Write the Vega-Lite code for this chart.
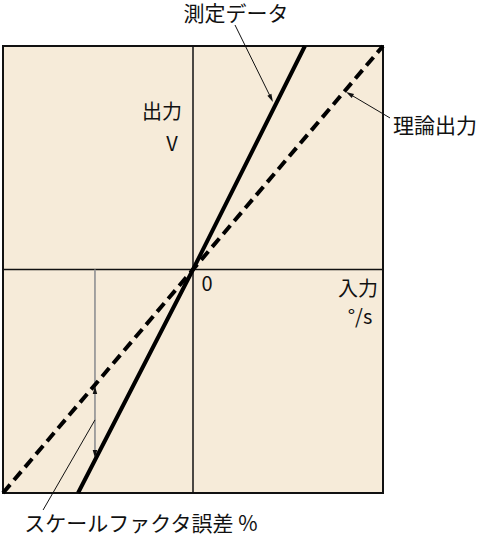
{
  "$schema": "https://vega.github.io/schema/vega-lite/v6.json",
  "autosize": "none",
  "width": 380,
  "height": 447,
  "padding": {"left": 3, "top": 46, "right": 101, "bottom": 50},
  "background": "white",
  "view": {"fill": "#F6EBD9", "stroke": "#111111", "strokeWidth": 2},
  "config": {"text": {"font": "Noto Sans CJK JP", "color": "#111111"}},
  "layer": [
    {
      "data": {"values": [
        {"x": -1, "y": 0, "x2": 1, "y2": 0},
        {"x": 0, "y": -1, "x2": 0, "y2": 1}
      ]},
      "mark": {"type": "rule", "color": "#111111", "strokeWidth": 1.5},
      "encoding": {
        "x": {"field": "x", "type": "quantitative", "scale": {"domain": [-1, 1], "nice": false, "zero": false}, "axis": null},
        "y": {"field": "y", "type": "quantitative", "scale": {"domain": [-1, 1], "nice": false, "zero": false}, "axis": null},
        "x2": {"field": "x2"},
        "y2": {"field": "y2"}
      }
    },
    {
      "data": {"values": [
        {"x": -0.516, "y": 0, "x2": -0.516, "y2": -0.83}
      ]},
      "mark": {"type": "rule", "color": "#9a9a9a", "strokeWidth": 1.8},
      "encoding": {
        "x": {"field": "x", "type": "quantitative"},
        "y": {"field": "y", "type": "quantitative"},
        "x2": {"field": "x2"},
        "y2": {"field": "y2"}
      }
    },
    {
      "data": {"values": [
        {"x": -1, "y": -1},
        {"x": 1, "y": 1}
      ]},
      "mark": {"type": "line", "color": "#000000", "strokeWidth": 4, "strokeDash": [11, 6]},
      "encoding": {
        "x": {"field": "x", "type": "quantitative"},
        "y": {"field": "y", "type": "quantitative"}
      }
    },
    {
      "data": {"values": [
        {"x": -0.605, "y": -1},
        {"x": 0, "y": 0},
        {"x": 0.589, "y": 1}
      ]},
      "mark": {"type": "line", "color": "#000000", "strokeWidth": 4},
      "encoding": {
        "x": {"field": "x", "type": "quantitative"},
        "y": {"field": "y", "type": "quantitative"}
      }
    },
    {
      "data": {"values": [
        {"x": 0.221, "y": 1.094, "x2": 0.409, "y2": 0.77},
        {"x": 1.037, "y": 0.678, "x2": 0.828, "y2": 0.783},
        {"x": -0.516, "y": -0.673, "x2": -0.789, "y2": -1.076}
      ]},
      "mark": {"type": "rule", "color": "#111111", "strokeWidth": 1},
      "encoding": {
        "x": {"field": "x", "type": "quantitative"},
        "y": {"field": "y", "type": "quantitative"},
        "x2": {"field": "x2"},
        "y2": {"field": "y2"}
      }
    },
    {
      "data": {"values": [{"x": 0.409, "y": 0.77}]},
      "mark": {"type": "point", "shape": "M0,-1L0.45,0.6L-0.45,0.6Z", "filled": true, "color": "#111111", "opacity": 1, "size": 100, "angle": 154},
      "encoding": {
        "x": {"field": "x", "type": "quantitative"},
        "y": {"field": "y", "type": "quantitative"}
      }
    },
    {
      "data": {"values": [{"x": 0.828, "y": 0.783}]},
      "mark": {"type": "point", "shape": "M0,-1L0.45,0.6L-0.45,0.6Z", "filled": true, "color": "#111111", "opacity": 1, "size": 100, "angle": 301},
      "encoding": {
        "x": {"field": "x", "type": "quantitative"},
        "y": {"field": "y", "type": "quantitative"}
      }
    },
    {
      "data": {"values": [{"x": -0.516, "y": -0.544}]},
      "mark": {"type": "point", "shape": "M0,-1L0.45,0.6L-0.45,0.6Z", "filled": true, "color": "#111111", "opacity": 1, "size": 100, "angle": 0},
      "encoding": {
        "x": {"field": "x", "type": "quantitative"},
        "y": {"field": "y", "type": "quantitative"}
      }
    },
    {
      "data": {"values": [{"x": -0.516, "y": -0.821}]},
      "mark": {"type": "point", "shape": "M0,-1L0.45,0.6L-0.45,0.6Z", "filled": true, "color": "#111111", "opacity": 1, "size": 100, "angle": 180},
      "encoding": {
        "x": {"field": "x", "type": "quantitative"},
        "y": {"field": "y", "type": "quantitative"}
      }
    },
    {
      "data": {"values": [
        {"x": 0.226, "y": 1.138, "label": "測定データ"},
        {"x": -0.274, "y": -1.143, "label": "スケールファクタ誤差 %"}
      ]},
      "mark": {"type": "text", "fontSize": 21, "letterSpacing": 1, "align": "center", "baseline": "middle"},
      "encoding": {
        "x": {"field": "x", "type": "quantitative"},
        "y": {"field": "y", "type": "quantitative"},
        "text": {"field": "label"}
      }
    },
    {
      "data": {"values": [
        {"x": 1.053, "y": 0.638, "label": "理論出力"}
      ]},
      "mark": {"type": "text", "fontSize": 21, "align": "left", "baseline": "middle"},
      "encoding": {
        "x": {"field": "x", "type": "quantitative"},
        "y": {"field": "y", "type": "quantitative"},
        "text": {"field": "label"}
      }
    },
    {
      "data": {"values": [
        {"x": -0.163, "y": 0.7, "label": "出力"},
        {"x": -0.111, "y": 0.557, "label": "V"},
        {"x": 0.074, "y": -0.069, "label": "0"},
        {"x": 0.868, "y": -0.092, "label": "入力"},
        {"x": 0.879, "y": -0.217, "label": "°/s"}
      ]},
      "mark": {"type": "text", "fontSize": 20, "align": "center", "baseline": "middle"},
      "encoding": {
        "x": {"field": "x", "type": "quantitative"},
        "y": {"field": "y", "type": "quantitative"},
        "text": {"field": "label"}
      }
    }
  ]
}
